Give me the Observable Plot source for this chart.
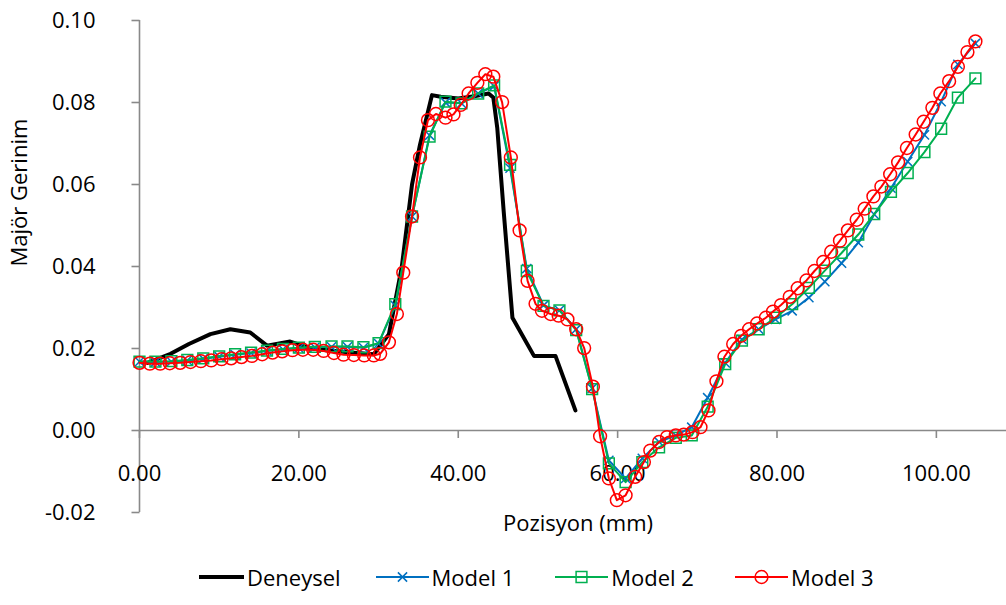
<!DOCTYPE html>
<html><head><meta charset="utf-8">
<script src="https://cdn.jsdelivr.net/npm/d3@7"></script>
<script src="https://cdn.jsdelivr.net/npm/@observablehq/plot@0.6"></script>
<style>
body{margin:0;background:#fff;font-family:"Open Sans",sans-serif;}
#chart{width:1006px;height:605px;background:#fff;}
#chart svg{display:block}
#legend{display:flex;align-items:center;height:57px;padding-left:199px;font-size:22px;color:#000;}
.item{display:flex;align-items:center;}
.item svg{display:block;margin-right:3px}
</style></head><body><div id="chart"></div>
<script>
// ---- data ----
const xTicks = [0, 20, 40, 60, 80, 100];
const yTicks = [-0.02, 0, 0.02, 0.04, 0.06, 0.08, 0.10];

const denX = [1.0, 3.9, 6.2, 8.9, 11.4, 13.9, 16.0, 18.9, 21.5, 24.0, 26.5, 29.4, 31.3, 32.9, 34.2, 35.2, 36.7, 37.8, 40.0, 42.0, 43.8, 44.4, 44.9, 45.7, 46.8, 49.5, 52.2, 54.7];
const denY = [0.0165, 0.0187, 0.0211, 0.0235, 0.0247, 0.0239, 0.0207, 0.0217, 0.0200, 0.0195, 0.0190, 0.0186, 0.0235, 0.0397, 0.0600, 0.0697, 0.0818, 0.0814, 0.0810, 0.0815, 0.0822, 0.0812, 0.0737, 0.0535, 0.0275, 0.0182, 0.0182, 0.0049];

const m12X = [0, 2.0, 4.0, 6.0, 8.0, 10.0, 12.0, 14.0, 16.0, 18.0, 20.0, 22.0, 24.1, 26.1, 28.1, 30.0, 32.1, 34.2, 36.4, 38.4, 40.4, 42.5, 44.5, 46.5, 48.6, 50.7, 52.7, 54.8, 56.8, 58.9, 61.0, 63.1, 65.2, 67.3, 69.3, 71.3, 73.5, 75.6, 77.7, 79.8, 81.9, 84.0, 86.0, 88.1, 90.2, 92.2, 94.3, 96.4, 98.5, 100.6, 102.7, 104.9];
const m1Y = [0.0168, 0.0167, 0.0168, 0.0171, 0.0175, 0.0180, 0.0185, 0.0189, 0.0194, 0.0198, 0.0201, 0.0203, 0.0204, 0.0204, 0.0202, 0.0212, 0.0305, 0.0522, 0.0720, 0.0800, 0.0798, 0.0822, 0.0840, 0.0640, 0.0395, 0.0305, 0.0293, 0.0247, 0.0103, -0.0073, -0.0117, -0.0068, -0.0028, -0.0012, 0.0008, 0.0080, 0.0165, 0.0222, 0.0247, 0.0271, 0.0292, 0.0324, 0.0363, 0.0408, 0.0458, 0.0527, 0.0591, 0.0656, 0.0721, 0.0802, 0.0893, 0.0944];
const m2Y = [0.0168, 0.0168, 0.0169, 0.0172, 0.0176, 0.0181, 0.0186, 0.0190, 0.0195, 0.0199, 0.0202, 0.0204, 0.0205, 0.0205, 0.0203, 0.0213, 0.0308, 0.0522, 0.0717, 0.0802, 0.0798, 0.0822, 0.0842, 0.0648, 0.0389, 0.0304, 0.0293, 0.0245, 0.0101, -0.0080, -0.0126, -0.0077, -0.0041, -0.0018, -0.0012, 0.0058, 0.0162, 0.0219, 0.0247, 0.0275, 0.0308, 0.0348, 0.0390, 0.0433, 0.0478, 0.0528, 0.0582, 0.0628, 0.0679, 0.0736, 0.0812, 0.0859];

const m3X = [0, 1.3, 2.6, 3.8, 5.1, 6.4, 7.7, 9.0, 10.3, 11.5, 12.8, 14.1, 15.4, 16.7, 17.9, 19.2, 20.5, 21.8, 23.1, 24.4, 25.6, 26.9, 28.2, 29.4, 30.2, 31.3, 32.3, 33.1, 34.2, 35.2, 36.2, 37.2, 38.4, 39.4, 40.3, 41.3, 42.4, 43.4, 44.4, 45.5, 46.6, 47.7, 48.7, 49.7, 50.5, 51.6, 52.6, 53.7, 54.8, 55.8, 56.9, 57.8, 58.9, 59.9, 61.0, 62.2, 63.3, 64.1, 65.2, 66.2, 67.3, 68.3, 69.4, 70.4, 71.4, 72.4, 73.4, 74.5, 75.5, 76.5, 77.5, 78.6, 79.5, 80.5, 81.6, 82.6, 83.7, 84.7, 85.8, 86.8, 87.9, 88.9, 90.0, 91.0, 92.1, 93.1, 94.2, 95.2, 96.3, 97.4, 98.4, 99.5, 100.5, 101.6, 102.7, 103.9, 104.9];
const m3Y = [0.0165, 0.0163, 0.0163, 0.0164, 0.0165, 0.0167, 0.0169, 0.0171, 0.0174, 0.0176, 0.0179, 0.0182, 0.0186, 0.0190, 0.0193, 0.0196, 0.0197, 0.0197, 0.0194, 0.0189, 0.0185, 0.0184, 0.0183, 0.0183, 0.0187, 0.0215, 0.0284, 0.0385, 0.0522, 0.0666, 0.0757, 0.0772, 0.0763, 0.0771, 0.0794, 0.0822, 0.0848, 0.0869, 0.0863, 0.0801, 0.0666, 0.0488, 0.0365, 0.0309, 0.0292, 0.0284, 0.0280, 0.0271, 0.0247, 0.0201, 0.0107, -0.0014, -0.0117, -0.0170, -0.0158, -0.0113, -0.0077, -0.0049, -0.0028, -0.0016, -0.0012, -0.0010, -0.0004, 0.0008, 0.0049, 0.0120, 0.0180, 0.0211, 0.0231, 0.0247, 0.0261, 0.0275, 0.0290, 0.0306, 0.0326, 0.0347, 0.0366, 0.0389, 0.0411, 0.0436, 0.0463, 0.0488, 0.0514, 0.0541, 0.0571, 0.0595, 0.0625, 0.0654, 0.0689, 0.0722, 0.0753, 0.0787, 0.0822, 0.0852, 0.0887, 0.0923, 0.0949];

const seriesNames = ["Deneysel", "Model 1", "Model 2", "Model 3"];
const seriesColors = ["#000000", "#0070C0", "#00B050", "#FF0000"];

// ---- build tables ----
const zip = (xs, ys) => xs.map((x, i) => ({x, y: ys[i]}));
const den = zip(denX, denY), m1 = zip(m12X, m1Y), m2 = zip(m12X, m2Y), m3 = zip(m3X, m3Y);

const GRAY = "#898989";
const tickDown = {draw(c){c.moveTo(0,0); c.lineTo(0,7.5);}};
const tickLeft = {draw(c){c.moveTo(0,0); c.lineTo(-8,0);}};
const crossSym = {draw(c){const s=4.6; c.moveTo(-s,-s); c.lineTo(s,s); c.moveTo(s,-s); c.lineTo(-s,s);}};
const squareSym = {draw(c){const s=5.4; c.moveTo(-s,-s); c.lineTo(s,-s); c.lineTo(s,s); c.lineTo(-s,s); c.closePath();}};
const circleSym = {draw(c){const r=6.4; c.moveTo(r,0); c.arc(0,0,r,0,2*Math.PI);}};
const symbols = [null, crossSym, squareSym, circleSym];

const fmt = d => d.toFixed(2);
const F = '"Open Sans", sans-serif';

const plot = Plot.plot({
  width: 1006, height: 548,
  marginLeft: 139, marginRight: 0, marginTop: 20, marginBottom: 36,
  x: {domain: [0, 108.8], axis: null},
  y: {domain: [-0.02, 0.10], axis: null},
  style: {fontFamily: F, fontSize: "22px", color: "#000", background: "#fff"},
  marks: [
    Plot.ruleY([0], {stroke: GRAY, strokeWidth: 1.6}),
    Plot.ruleX([0], {stroke: GRAY, strokeWidth: 1.6}),
    Plot.dot(xTicks, {x: d => d, y: 0, symbol: tickDown, stroke: GRAY, strokeWidth: 1.6, fill: "none"}),
    Plot.dot(yTicks, {x: 0, y: d => d, symbol: tickLeft, stroke: GRAY, strokeWidth: 1.6, fill: "none"}),
    Plot.text(xTicks, {x: d => d, y: 0, dy: 43, text: fmt, fontSize: 22, fill: "#000"}),
    Plot.text(yTicks, {x: 0, y: d => d, dx: -44, textAnchor: "end", text: fmt, fontSize: 22, fill: "#000"}),
    Plot.text(["Pozisyon (mm)"], {frameAnchor: "bottom", dx: 5, dy: 18, text: d => d, fontSize: 22, fill: "#000"}),
    Plot.text(["Majör Gerinim"], {frameAnchor: "left", dx: -120, rotate: -90, text: d => d, fontSize: 22, fill: "#000"}),
    // Deneysel
    Plot.line(den, {x: "x", y: "y", stroke: seriesColors[0], strokeWidth: 4, strokeLinejoin: "round"}),
    // Model 1
    Plot.line(m1, {x: "x", y: "y", stroke: seriesColors[1], strokeWidth: 2, strokeLinejoin: "round"}),
    Plot.dot(m1, {x: "x", y: "y", symbol: crossSym, stroke: seriesColors[1], strokeWidth: 1.5, fill: "none"}),
    // Model 2
    Plot.line(m2, {x: "x", y: "y", stroke: seriesColors[2], strokeWidth: 2, strokeLinejoin: "round"}),
    Plot.dot(m2, {x: "x", y: "y", symbol: squareSym, stroke: seriesColors[2], strokeWidth: 1.5, fill: "none"}),
    // Model 3
    Plot.line(m3, {x: "x", y: "y", stroke: seriesColors[3], strokeWidth: 2, strokeLinejoin: "round"}),
    Plot.dot(m3, {x: "x", y: "y", symbol: circleSym, stroke: seriesColors[3], strokeWidth: 1.5, fill: "none"})
  ]
});
const chart = document.getElementById("chart");
chart.appendChild(plot);

// ---- legend ----
const legend = d3.select(chart).append("div").attr("id", "legend");
const keyW = [45, 53, 53, 53];
const gapAfter = [35, 41, 41, 0];
seriesNames.forEach((name, i) => {
  const item = legend.append("div").attr("class", "item").style("margin-right", gapAfter[i] + "px");
  const svg = item.append("svg").attr("width", keyW[i]).attr("height", 20);
  svg.append("line").attr("x1", 0).attr("x2", keyW[i]).attr("y1", 10).attr("y2", 10)
    .attr("stroke", seriesColors[i]).attr("stroke-width", i === 0 ? 4 : 2);
  if (symbols[i]) {
    const p = d3.path();
    symbols[i].draw(p, 0);
    svg.append("path").attr("d", p.toString()).attr("transform", `translate(${keyW[i]/2},10)`)
      .attr("fill", "none").attr("stroke", seriesColors[i]).attr("stroke-width", 1.5);
  }
  item.append("span").text(name);
});
</script></body></html>
